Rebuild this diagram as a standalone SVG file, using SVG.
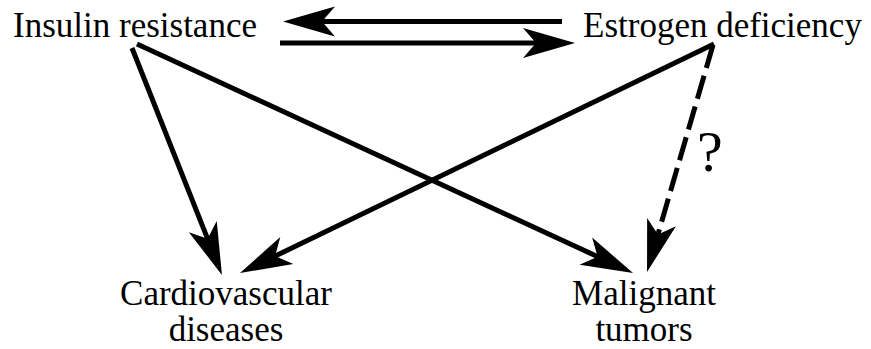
<svg xmlns="http://www.w3.org/2000/svg" width="871" height="349" viewBox="0 0 871 349">
<style>
text{font-family:'Liberation Serif','Times New Roman',serif;font-size:35px;fill:#000}
.c{text-anchor:middle}
.ln{stroke:#000;stroke-width:5;fill:none;marker-end:url(#ah)}
.d{stroke-dasharray:24 8}
</style>
<defs>
<marker id="ah" markerUnits="userSpaceOnUse" viewBox="-25 -17 57 34" markerWidth="57" markerHeight="34" refX="0" refY="0" orient="auto">
<path d="M30,0 L-22,-15 L-9,0 L-22,15 Z" fill="#000"/>
</marker>
</defs>
<rect width="871" height="349" fill="#fff"/>
<g id="insulin"><text x="13" y="37">Insulin resistance</text></g>
<g id="estrogen"><text x="583" y="37">Estrogen deficiency</text></g>
<g id="cardio"><text class="c" x="226" y="305">Cardiovascular</text><text class="c" x="226" y="341">diseases</text></g>
<g id="malignant"><text class="c" x="644" y="305">Malignant</text><text class="c" x="644" y="341">tumors</text></g>
<g id="connectors">
<line class="ln" x1="562" y1="21.5" x2="313" y2="21.5"/>
<line class="ln" x1="280" y1="43" x2="545" y2="43"/>
<line class="ln" x1="132" y1="48" x2="210.9" y2="247.1"/>
<line class="ln" x1="137" y1="44" x2="605.8" y2="260.4"/>
<line class="ln" x1="714" y1="44" x2="267" y2="260"/>
<line class="ln d" x1="713" y1="45" x2="655.4" y2="243.2"/>
<text x="697" y="171" style="font-size:58px">?</text>
</g>
</svg>
